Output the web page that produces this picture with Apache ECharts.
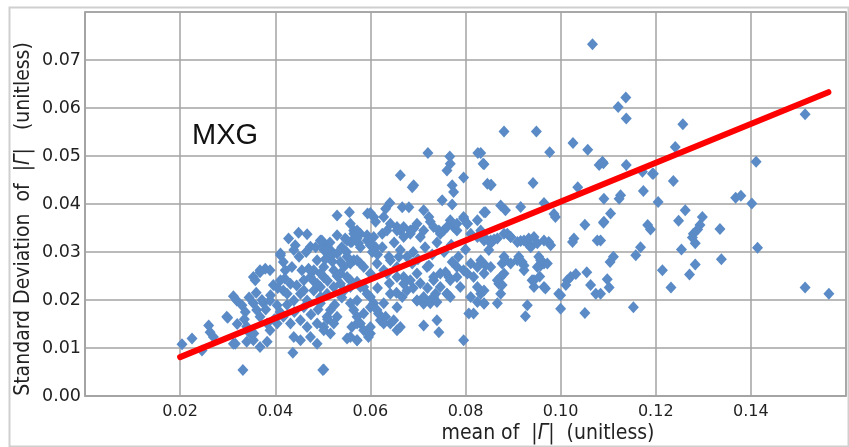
<!DOCTYPE html>
<html>
<head>
<meta charset="utf-8">
<script src="https://cdn.jsdelivr.net/npm/echarts@6/dist/echarts.min.js"></script>
<style>html,body{margin:0;padding:0;background:#fff}#c{width:849px;height:447px}</style>
</head>
<body>
<div id="c"></div>
<script>
// ---- data ----
const xTicks = [0.02, 0.04, 0.06, 0.08, 0.10, 0.12, 0.14];
const yTicks = [0.00, 0.01, 0.02, 0.03, 0.04, 0.05, 0.06, 0.07];
const fitLineMean = [0.02, 0.1563];
const fitLineSD = [0.0081, 0.0633];
const panelLabel = 'MXG';

// [mean of |Γ|, standard deviation of |Γ|]
const pointsRight = [
[0.1514,0.0587],[0.1257,0.0566],[0.1241,0.0519],[0.1411,0.0488],[0.1195,0.0463],[0.1237,0.0448],[0.1368,0.0413],[0.1379,0.0417],[0.1205,0.0404],[0.1402,0.0401],[0.1262,0.0387],[0.1298,0.0373],[0.1248,0.0365],[0.1189,0.0347],[0.1293,0.0356],[0.1288,0.0347],[0.1279,0.0338],[0.1277,0.0330],[0.1283,0.0318],[0.1335,0.0348],[0.1254,0.0305],[0.1414,0.0309],[0.1338,0.0285],[0.1283,0.0274],[0.1214,0.0262],[0.1271,0.0253],[0.1232,0.0226],[0.1514,0.0226],[0.1564,0.0213],
[0.1090,0.0485],[0.1138,0.0481],[0.1172,0.0467],[0.1193,0.0463],[0.1174,0.0427],[0.1091,0.0411],[0.1126,0.0418],[0.1123,0.0411],[0.1105,0.0380],[0.1091,0.0363],[0.1183,0.0356],[0.1084,0.0324],[0.1168,0.0310],[0.1158,0.0293],[0.1111,0.0290],[0.1104,0.0279],[0.1098,0.0243],[0.1102,0.0226],[0.1084,0.0213],[0.1153,0.0185]
];
const pointsUpperMid = [
[0.1067,0.0733],[0.1121,0.0602],[0.1137,0.0622],[0.1138,0.0578],[0.0881,0.0551],[0.0949,0.0551],[0.1026,0.0527],[0.1057,0.0513],[0.0977,0.0508],[0.0832,0.0506],[0.0839,0.0483],[0.1081,0.0481],[0.1088,0.0488],[0.0854,0.0440],[0.0942,0.0444],[0.1036,0.0435],[0.0842,0.0383],[0.0874,0.0397],[0.0884,0.0387],[0.0916,0.0394],[0.0965,0.0402],[0.0989,0.0373],[0.0986,0.0379],[0.1051,0.0357],[0.1090,0.0361],[0.0832,0.0345],[0.0839,0.0331],[0.0853,0.0324],[0.0860,0.0326],[0.0888,0.0338],[0.0895,0.0331],[0.0916,0.0323],[0.0933,0.0328],[0.0944,0.0331],[0.0937,0.0314],[0.0930,0.0318],[0.0975,0.0321],[0.0979,0.0314],[0.1028,0.0328],[0.1025,0.0321],[0.1077,0.0324],[0.0849,0.0304],[0.0832,0.0283],[0.0842,0.0272],[0.0881,0.0290],[0.0877,0.0276],[0.0884,0.0283],[0.0912,0.0290],[0.0919,0.0279],[0.0923,0.0272],[0.0954,0.0290],[0.0961,0.0279],[0.0958,0.0272],[0.0965,0.0276],[0.0874,0.0248],[0.0870,0.0234],[0.0877,0.0231],[0.0940,0.0241],[0.0944,0.0227],[0.0956,0.0249],[0.0968,0.0224],[0.1014,0.0241],[0.1021,0.0248],[0.1032,0.0254],[0.1011,0.0231],[0.1055,0.0258],[0.1063,0.0231],[0.1074,0.0213],[0.0996,0.0213],[0.0832,0.0213],[0.0839,0.0193],[0.0867,0.0193],[0.0874,0.0213],[0.0930,0.0189],[0.1000,0.0182],[0.1051,0.0173],[0.0926,0.0166],[0.1000,0.0210]
];
const pointsMid = [
[0.0721,0.0506],[0.0767,0.0499],[0.0768,0.0484],[0.0761,0.0470],[0.0826,0.0506],[0.0837,0.0484],[0.0796,0.0455],[0.0663,0.0460],[0.0691,0.0439],[0.0688,0.0435],[0.0772,0.0439],[0.0775,0.0425],[0.0846,0.0442],[0.0853,0.0439],[0.0751,0.0408],[0.0772,0.0399],[0.0641,0.0402],[0.0632,0.0390],[0.0530,0.0376],[0.0556,0.0383],[0.0594,0.0380],[0.0600,0.0381],[0.0607,0.0373],[0.0611,0.0363],[0.0667,0.0393],[0.0681,0.0393],[0.0712,0.0387],[0.0723,0.0373],[0.0726,0.0363],[0.0768,0.0366],[0.0775,0.0352],[0.0782,0.0345],[0.0796,0.0370],[0.0804,0.0359],[0.0825,0.0366],[0.0839,0.0383],[0.0744,0.0345],[0.0754,0.0345],[0.0656,0.0352],[0.0663,0.0345],[0.0670,0.0331],[0.0684,0.0345],[0.0691,0.0349],[0.0705,0.0331],[0.0547,0.0328],[0.0565,0.0345],[0.0579,0.0338],[0.0561,0.0321],[0.0575,0.0318],[0.0593,0.0324],[0.0607,0.0331],[0.0600,0.0314],[0.0611,0.0310],[0.0625,0.0338],[0.0635,0.0345],[0.0495,0.0324],[0.0502,0.0314],[0.0516,0.0304],[0.0516,0.0290],[0.0530,0.0297],[0.0537,0.0279],[0.0551,0.0290],[0.0565,0.0283],[0.0579,0.0276],[0.0502,0.0269],[0.0523,0.0262],[0.0537,0.0255],[0.0551,0.0248],[0.0502,0.0248],[0.0495,0.0227],[0.0509,0.0213],[0.0523,0.0227],[0.0537,0.0234],[0.0558,0.0227],[0.0572,0.0238],[0.0586,0.0227],[0.0639,0.0290],[0.0663,0.0304],[0.0677,0.0290],[0.0688,0.0276],[0.0635,0.0255],[0.0656,0.0248],[0.0670,0.0234],[0.0677,0.0220],[0.0667,0.0206],[0.0723,0.0272],[0.0758,0.0258],[0.0765,0.0248],[0.0772,0.0279],[0.0733,0.0241],[0.0747,0.0227],[0.0737,0.0213],[0.0782,0.0269],[0.0804,0.0255],[0.0817,0.0248],[0.0825,0.0227],[0.0839,0.0220],[0.0761,0.0213],[0.0789,0.0227],[0.0698,0.0199],[0.0712,0.0192],[0.0726,0.0199],[0.0733,0.0206],[0.0811,0.0206],[0.0825,0.0196],[0.0839,0.0192],[0.0817,0.0172],[0.0807,0.0172],[0.0495,0.0193],[0.0516,0.0179],[0.0530,0.0165],[0.0509,0.0165],[0.0523,0.0151],[0.0502,0.0144],[0.0516,0.0130],[0.0558,0.0193],[0.0565,0.0179],[0.0572,0.0165],[0.0561,0.0144],[0.0579,0.0151],[0.0586,0.0137],[0.0600,0.0206],[0.0607,0.0193],[0.0617,0.0172],[0.0621,0.0158],[0.0632,0.0165],[0.0642,0.0151],[0.0656,0.0137],[0.0600,0.0130],[0.0596,0.0123],[0.0551,0.0120],[0.0572,0.0116],[0.0712,0.0147],[0.0740,0.0158],[0.0744,0.0133],[0.0796,0.0116],[0.0502,0.0055]
];
const pointsCore = [
[0.0558,0.0359],[0.0565,0.0338],[0.0572,0.0328],[0.0593,0.0335],[0.0600,0.0318],[0.0604,0.0300],[0.0579,0.0310],[0.0558,0.0321],[0.0628,0.0373],[0.0642,0.0359],[0.0656,0.0345],[0.0670,0.0352],[0.0684,0.0338],[0.0698,0.0359],[0.0712,0.0345],[0.0733,0.0352],[0.0747,0.0338],[0.0761,0.0352],[0.0782,0.0359],[0.0796,0.0373],[0.0804,0.0359],[0.0811,0.0338],[0.0825,0.0331],[0.0839,0.0324],[0.0853,0.0318],[0.0867,0.0328],[0.0881,0.0338],[0.0895,0.0331],[0.0909,0.0321],[0.0923,0.0324],[0.0937,0.0310],[0.0951,0.0318],[0.0965,0.0324],
[0.0558,0.0276],[0.0572,0.0283],[0.0586,0.0269],[0.0600,0.0255],[0.0614,0.0276],[0.0628,0.0262],[0.0642,0.0283],[0.0656,0.0269],[0.0670,0.0248],[0.0684,0.0241],[0.0698,0.0255],[0.0719,0.0269],[0.0733,0.0248],[0.0747,0.0255],[0.0768,0.0241],[0.0782,0.0248],[0.0796,0.0262],[0.0811,0.0276],[0.0825,0.0269],[0.0839,0.0255],[0.0853,0.0269],[0.0867,0.0241],[0.0881,0.0255],[0.0895,0.0276],[0.0909,0.0283],[0.0923,0.0262],[0.0944,0.0241],[0.0951,0.0269],[0.0958,0.0283],[0.0972,0.0276],[0.0965,0.0227],
[0.0558,0.0241],[0.0579,0.0227],[0.0593,0.0213],[0.0572,0.0199],[0.0600,0.0185],[0.0586,0.0172],[0.0614,0.0179],[0.0628,0.0193],[0.0642,0.0213],[0.0656,0.0185],[0.0649,0.0158],[0.0663,0.0144],[0.0628,0.0151],[0.0600,0.0144],[0.0572,0.0151],[0.0558,0.0123],[0.0572,0.0116],[0.0596,0.0130],[0.0698,0.0199],[0.0712,0.0206],[0.0726,0.0193],[0.0740,0.0196],[0.0761,0.0213],[0.0768,0.0206],
[0.0615,0.0295],[0.0625,0.0310],[0.0650,0.0320],[0.0660,0.0290],[0.0690,0.0300],[0.0700,0.0285],[0.0715,0.0310],[0.0730,0.0295],[0.0740,0.0320],[0.0755,0.0300],[0.0770,0.0315],[0.0785,0.0290],[0.0800,0.0305],[0.0615,0.0225],[0.0640,0.0235],[0.0655,0.0215],[0.0690,0.0225],[0.0705,0.0235],[0.0720,0.0225]
];
const pointsLeft = [
[0.0204,0.0108],[0.0225,0.0120],[0.0246,0.0095],[0.0260,0.0147],[0.0263,0.0133],[0.0270,0.0123],[0.0300,0.0163],[0.0298,0.0165],[0.0312,0.0208],[0.0319,0.0199],[0.0330,0.0189],[0.0337,0.0175],[0.0316,0.0109],[0.0312,0.0109],[0.0332,0.0054],[0.0347,0.0130],[0.0354,0.0116],[0.0368,0.0102],[0.0383,0.0113],[0.0340,0.0113],[0.0358,0.0241],[0.0368,0.0258],[0.0379,0.0265],[0.0389,0.0262],[0.0354,0.0193],[0.0361,0.0179],[0.0375,0.0193],[0.0389,0.0199],[0.0404,0.0189],[0.0368,0.0165],[0.0383,0.0151],[0.0389,0.0137],[0.0404,0.0151],[0.0396,0.0231],[0.0411,0.0241],[0.0417,0.0220],[0.0432,0.0234],[0.0411,0.0297],[0.0417,0.0279],[0.0421,0.0262],[0.0428,0.0328],[0.0449,0.0340],[0.0467,0.0337],[0.0442,0.0314],[0.0498,0.0324],[0.0488,0.0283],[0.0481,0.0262],[0.0502,0.0304],[0.0435,0.0269],[0.0456,0.0262],[0.0460,0.0241],[0.0425,0.0213],[0.0439,0.0199],[0.0453,0.0213],[0.0467,0.0199],[0.0481,0.0220],[0.0495,0.0206],[0.0417,0.0165],[0.0432,0.0151],[0.0453,0.0158],[0.0467,0.0144],[0.0488,0.0151],[0.0502,0.0137],[0.0439,0.0123],[0.0453,0.0116],[0.0474,0.0123],[0.0488,0.0109],[0.0437,0.0090],[0.0500,0.0054],[0.0474,0.0248],[0.0488,0.0234],[0.0502,0.0248],[0.0411,0.0293],[0.0439,0.0304],[0.0474,0.0311],[0.0509,0.0304],[0.0368,0.0262],[0.0354,0.0248],[0.0551,0.0324],[0.0572,0.0345],
[0.0390,0.0210],[0.0405,0.0225],[0.0420,0.0245],[0.0445,0.0230],[0.0460,0.0220],[0.0470,0.0265],[0.0480,0.0240],[0.0495,0.0255],[0.0510,0.0240],[0.0520,0.0280],[0.0530,0.0250],[0.0545,0.0270],[0.0460,0.0185],[0.0475,0.0170],[0.0490,0.0180],[0.0510,0.0160],[0.0525,0.0190],[0.0540,0.0205],[0.0545,0.0220],[0.0450,0.0290],[0.0465,0.0300],[0.0485,0.0310],[0.0505,0.0285],[0.0515,0.0320],[0.0530,0.0335],[0.0540,0.0310],[0.0550,0.0300],[0.0440,0.0175],[0.0425,0.0190],[0.0410,0.0175],[0.0398,0.0160],[0.0380,0.0180],[0.0372,0.0200],[0.0360,0.0215],[0.0345,0.0205],[0.0335,0.0160],[0.0320,0.0150],[0.0340,0.0145],[0.0355,0.0130]
];

const allPoints = [].concat(pointsRight, pointsUpperMid, pointsMid, pointsCore, pointsLeft);
const fitLine = fitLineMean.map((m, i) => [m, fitLineSD[i]]);

const chart = echarts.init(document.getElementById('c'));
const gridCol = '#a3a3a3';
const lblFont = 'DejaVu Sans';
const titleFont = 'DejaVu Sans Condensed, DejaVu Sans';
chart.setOption({
  animation: false,
  backgroundColor: '#fff',
  grid: { left: 85, right: 3, top: 12, bottom: 51, show: true, borderColor: gridCol, borderWidth: 1.5 },
  xAxis: {
    type: 'value', min: 0, max: 0.16, interval: 0.02,
    axisLine: { show: true, lineStyle: { color: gridCol, width: 1.5 } },
    axisTick: { show: false },
    splitLine: { show: true, lineStyle: { color: gridCol, width: 1.5 } },
    axisLabel: {
      margin: 8, color: '#222', fontFamily: lblFont, fontSize: 16,
      formatter: v => xTicks.some(t => Math.abs(t - v) < 1e-9) ? v.toFixed(2) : ''
    }
  },
  yAxis: {
    type: 'value', min: 0, max: 0.08, interval: 0.01,
    axisLine: { show: true, lineStyle: { color: gridCol, width: 1.5 } },
    axisTick: { show: false },
    splitLine: { show: true, lineStyle: { color: gridCol, width: 1.5 } },
    axisLabel: {
      margin: 4, color: '#222', fontFamily: lblFont, fontSize: 17.5,
      formatter: v => yTicks.some(t => Math.abs(t - v) < 1e-9) ? v.toFixed(2) : ''
    }
  },
  series: [
    {
      type: 'scatter', data: allPoints, symbol: 'diamond', symbolSize: [11, 12],
      itemStyle: { color: '#5a8bc6', opacity: 1 }, z: 2
    },
    {
      type: 'line', data: fitLine, symbol: 'none',
      lineStyle: { color: '#ff0000', width: 6, cap: 'round' }, z: 3
    }
  ],
  graphic: [
    { type: 'rect', left: 7, top: 5, shape: { width: 839, height: 439 }, z: -10, silent: true,
      style: { fill: 'none', stroke: '#cfcfcf', lineWidth: 2 } },
    { type: 'text', x: 225, y: 136, z: 10,
      style: { text: panelLabel, fontFamily: 'Liberation Sans', fontSize: 29, fill: '#111',
               textAlign: 'center', textVerticalAlign: 'middle' } },
    { type: 'text', x: 548, y: 434, z: 10,
      style: { text: '{n|mean of  |}{g|Γ}{n||  (unitless)}', textAlign: 'center', textVerticalAlign: 'middle',
               rich: { n: { fontFamily: titleFont, fontSize: 21, fill: '#222' },
                       g: { fontFamily: titleFont, fontSize: 21, fontStyle: 'italic', fill: '#222' } } } },
    { type: 'text', x: 24, y: 219, rotation: Math.PI / 2, z: 10,
      style: { text: '{n|Standard Deviation  of  |}{g|Γ}{n||   (unitless)}', textAlign: 'center', textVerticalAlign: 'middle',
               rich: { n: { fontFamily: titleFont, fontSize: 21, fill: '#222' },
                       g: { fontFamily: titleFont, fontSize: 21, fontStyle: 'italic', fill: '#222' } } } }
  ]
});
</script>
</body>
</html>
